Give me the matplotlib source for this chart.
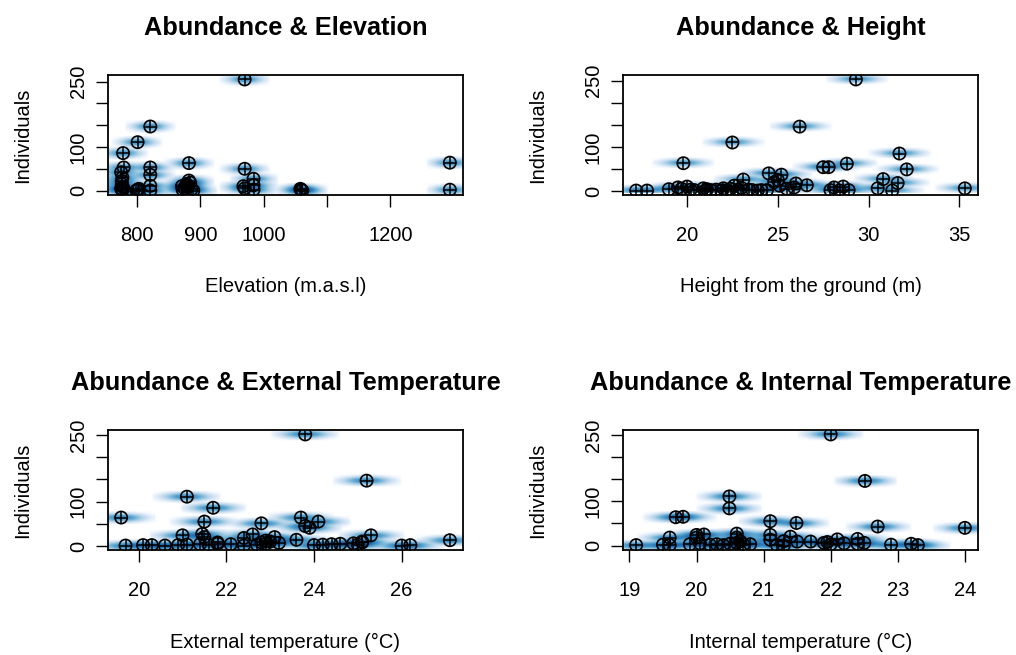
import numpy as np
import matplotlib
matplotlib.use("Agg")
import matplotlib.pyplot as plt
from matplotlib.colors import LinearSegmentedColormap

plt.rcParams['font.family'] = ['Liberation Sans', 'DejaVu Sans']

# Abundance (Individuals) against each environmental variable
elev_x = [970, 821, 801, 778, 779, 775, 777, 776, 778, 776, 777, 776, 775,
          821, 821, 821, 821, 801, 803, 799, 882, 882, 878, 871, 875, 886,
          889, 880, 884, 872, 879, 970, 970, 968, 984, 984, 984,
          1059, 1061, 1058, 1060, 1294, 1294]
elev_y = [255, 147, 111, 86, 53, 42, 30, 15, 8, 2, 0, 22, 5,
          53, 36, 11, 0, 2, 4, 0, 63, 23, 15, 10, 5, 3,
          0, 8, 18, 2, 12, 50, 5, 10, 27, 12, 2,
          2, 0, 4, 1, 64, 2]

height_x = [29.3, 26.2, 22.5, 19.8, 31.7, 32.1, 27.5, 27.8, 28.8, 24.5, 25.2,
            23.1, 30.8, 31.6, 30.5, 31.3, 35.3, 17.2, 17.8, 19.0, 19.5, 19.7,
            20.0, 20.2, 20.4, 20.9, 21.1, 21.3, 21.6, 21.9, 22.2, 22.4, 22.6,
            22.8, 23.0, 23.6, 23.9, 24.4, 24.8, 25.0, 25.1, 25.5, 26.0, 26.6,
            25.9, 27.9, 28.1, 28.4, 28.6, 28.9, 21.0, 22.0, 23.4, 24.1]
height_y = [253, 146, 110, 63, 85, 49, 54, 54, 62, 40, 37,
            26, 27, 18, 6, 1, 6, 1, 1, 4, 8, 5,
            10, 3, 2, 6, 4, 2, 3, 1, 2, 5, 12,
            3, 7, 2, 1, 2, 20, 25, 12, 5, 17, 13,
            8, 2, 8, 1, 10, 2, 1, 6, 3, 2]

ext_x = [23.8, 25.2, 21.1, 21.7, 19.6, 21.5, 22.8, 23.7, 24.1, 23.8, 23.9,
         21.0, 21.45, 21.5, 22.6, 22.4, 23.1, 23.6, 25.3, 25.1, 27.1, 19.7,
         20.1, 20.3, 20.6, 20.9, 21.1, 21.4, 21.6, 21.8, 22.1, 22.4, 22.7,
         22.8, 22.9, 23.0, 23.2, 24.0, 24.2, 24.4, 24.6, 24.9, 25.0, 25.1,
         26.0, 26.2, 21.8, 22.9]
ext_y = [251, 147, 111, 86, 64, 55, 51, 64, 55, 45, 41,
         24, 27, 20, 26, 18, 20, 14, 24, 10, 13, 1,
         2, 2, 1, 2, 3, 4, 2, 5, 4, 1, 3,
         8, 5, 10, 7, 2, 3, 4, 5, 6, 3, 8,
         1, 2, 8, 12]

int_x = [22.0, 22.51, 20.49, 20.49, 19.69, 19.8, 21.1, 21.49, 22.7, 24.0,
         20.6, 20.6, 20.11, 20.0, 20.0, 19.6, 21.1, 21.1, 21.4, 21.3, 21.5,
         21.7, 22.1, 22.4, 19.1, 19.5, 19.6, 19.9, 20.05, 20.2, 20.3, 20.4,
         20.5, 20.6, 20.7, 20.8, 21.2, 21.3, 21.9, 22.0, 22.2, 22.4, 22.5,
         22.9, 23.2, 23.3, 21.95, 20.65]
int_y = [251, 146, 111, 84, 64, 65, 55, 51, 43, 40,
         27, 18, 25, 24, 18, 18, 24, 13, 20, 10, 9,
         9, 14, 15, 1, 2, 1, 3, 5, 2, 3, 1,
         4, 6, 2, 3, 1, 0, 6, 3, 5, 4, 6,
         2, 4, 1, 8, 10]

PANELS = [
    ("Abundance & Elevation", "Elevation (m.a.s.l)", elev_x, elev_y,
     [800, 900, 1000, 1100, 1200], ["800", "900", "1000", "", "1200"]),
    ("Abundance & Height", "Height from the ground (m)", height_x, height_y,
     [20, 25, 30, 35], ["20", "25", "30", "35"]),
    ("Abundance & External Temperature", "External temperature (°C)", ext_x, ext_y,
     [20, 22, 24, 26], ["20", "22", "24", "26"]),
    ("Abundance & Internal Temperature", "Internal temperature (°C)", int_x, int_y,
     [19, 20, 21, 22, 23, 24], ["19", "20", "21", "22", "23", "24"]),
]
Y_TICKS = [0, 50, 100, 150, 200, 250]
Y_LABELS = ["0", "", "100", "", "", "250"]

# R's blues9 ramp used by smoothScatter
BLUES9 = ["#F7FBFF", "#DEEBF7", "#C6DBEF", "#9ECAE1", "#6BAED6",
          "#4292C6", "#2171B5", "#08519C", "#08306B"]
cmap = LinearSegmentedColormap.from_list("rblues", ["white"] + BLUES9, N=256)


def smooth_density(x, y, nbin=128):
    """Rough version of R smoothScatter: binned gaussian kde, 4th root."""
    bwx = (np.quantile(x, 0.95) - np.quantile(x, 0.05)) / 25
    bwy = (np.quantile(y, 0.95) - np.quantile(y, 0.05)) / 25
    gx = np.linspace(x.min() - 1.5 * bwx, x.max() + 1.5 * bwx, nbin)
    gy = np.linspace(y.min() - 1.5 * bwy, y.max() + 1.5 * bwy, nbin)
    ux = (gx[None, :] - x[:, None]) / bwx
    uy = (gy[None, :] - y[:, None]) / bwy
    kx = np.where(np.abs(ux) <= 3.4, np.exp(-0.5 * ux ** 2), 0)
    ky = np.where(np.abs(uy) <= 3.4, np.exp(-0.5 * uy ** 2), 0)
    dens = ky.T @ kx
    dx, dy = gx[1] - gx[0], gy[1] - gy[0]
    extent = [gx[0] - dx / 2, gx[-1] + dx / 2, gy[0] - dy / 2, gy[-1] + dy / 2]
    return dens ** 0.25, extent


fig = plt.figure(figsize=(10.16, 6.55), dpi=100)
W, H = 1016, 655
boxes = [(108, 75), (623, 75), (108, 430), (623, 430)]
bw_px, bh_px = 355, 120

for (title, xlabel, xs, ys, xt, xtl), (left, top) in zip(PANELS, boxes):
    ax = fig.add_axes([left / W, 1 - (top + bh_px) / H, bw_px / W, bh_px / H])
    x = np.array(xs, dtype=float)
    y = np.array(ys, dtype=float)

    z, extent = smooth_density(x, y)
    ax.imshow(z, origin="lower", extent=extent, cmap=cmap, aspect="auto",
              interpolation="bilinear")

    # pch = 10 : circle with a cross
    ax.scatter(x, y, s=78, facecolors="none", edgecolors="black", linewidths=1.2, zorder=3)
    ax.scatter(x, y, s=78, marker="+", color="black", linewidths=1.1, zorder=3)

    # R style 4% padding
    rx = x.max() - x.min()
    ry = y.max() - y.min()
    ax.set_xlim(x.min() - 0.04 * rx, x.max() + 0.04 * rx)
    ax.set_ylim(y.min() - 0.04 * ry, y.max() + 0.04 * ry)

    ax.set_xticks(xt)
    ax.set_xticklabels(xtl)
    ax.set_yticks(Y_TICKS)
    ax.set_yticklabels(Y_LABELS, rotation=90, va="center")
    ax.tick_params(axis="x", length=8.5, width=1, pad=14, labelsize=14.5)
    ax.tick_params(axis="y", length=8.5, width=1, pad=6, labelsize=14.5)
    for s in ax.spines.values():
        s.set_linewidth(1.3)

    ax.set_title(title, fontsize=18.3, fontweight="bold", pad=29)
    ax.set_xlabel(xlabel, fontsize=14.5)
    ax.xaxis.label.set_va("center")
    ax.xaxis.set_label_coords(0.5, -(287 - 195) / bh_px)
    ax.set_ylabel("Individuals", fontsize=14.5)
    ax.yaxis.label.set_va("center")
    ax.yaxis.set_label_coords(-85 / bw_px, 0.5)

fig.savefig("out.png", dpi=100)
